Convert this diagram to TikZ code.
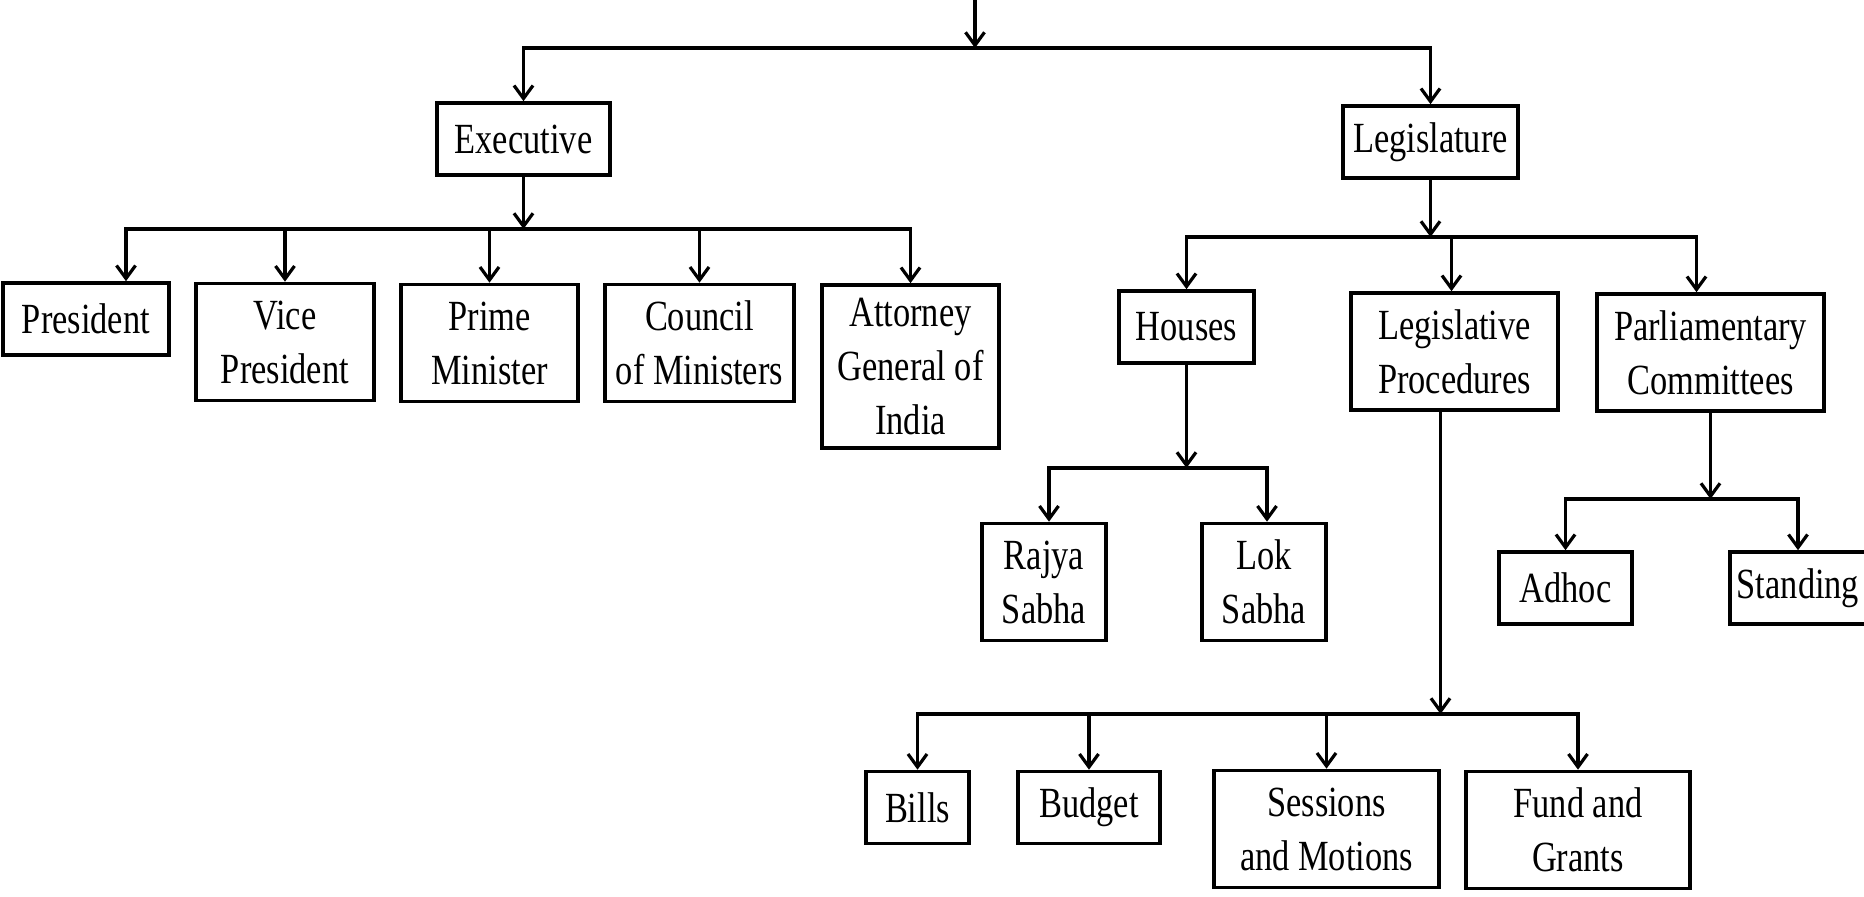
\documentclass[tikz,border=0pt]{standalone}
\usepackage{fontspec}
\setmainfont{Liberation Serif}[FakeStretch=0.8]
\usetikzlibrary{arrows.meta}
\tikzset{
  % Specifications for style of nodes:
  base/.style = {
    rectangle,
    draw=black,
    line width=1.8pt,
    inner sep=0pt,
    align=center,
    font=\fontsize{21.5pt}{27pt}\selectfont
  },
  oneline/.style = {
    base,
    minimum height=36pt
  },
  twoline/.style = {
    base,
    minimum height=58.5pt
  },
  threeline/.style = {
    base,
    minimum height=81.5pt
  },
  % Specifications for style of connectors:
  link/.style = {
    draw=black,
    line width=1.6pt,
    -{Straight Barb[length=6.5pt,width=9.5pt]}
  }
}

\begin{document}
\begin{tikzpicture}[x=0.5pt, y=-0.5pt]
    \useasboundingbox (0,0) rectangle (1864,897);
    % Specification of nodes (position, etc.)
    \node[oneline, minimum width=86.5pt]    (exec)     at (523.5,139)  {Executive};
    \node[oneline, minimum width=87.5pt]    (legis)    at (1430.5,142) {Legislature};
    \node[oneline, minimum width=83pt]      (pres)     at (86,319)     {President};
    \node[twoline, minimum width=89pt]      (vice)     at (285,342)    {Vice\\President};
    \node[twoline, minimum width=88.5pt]    (prime)    at (489.5,343)  {Prime\\Minister};
    \node[twoline, minimum width=94.5pt]    (council)  at (699.5,343)  {Council\\of Ministers};
    \node[threeline, minimum width=88.5pt]  (attorney) at (910.5,366.5) {Attorney\\General of\\India};
    \node[oneline, minimum width=67.5pt]    (houses)   at (1186.5,327) {Houses};
    \node[twoline, minimum width=103.5pt]   (legproc)  at (1454.5,351.5) {Legislative\\Procedures};
    \node[twoline, minimum width=113.5pt]   (parl)     at (1710.5,352.5) {Parliamentary\\Committees};
    \node[twoline, minimum width=62pt]      (rajya)    at (1044,582)   {Rajya\\Sabha};
    \node[twoline, minimum width=62pt]      (lok)      at (1264,582)   {Lok\\Sabha};
    \node[oneline, minimum width=66.5pt]    (adhoc)    at (1565.5,588) {Adhoc};
    \node[oneline, minimum width=68pt]      (standing) at (1798,588)   {Standing};
    \node[oneline, minimum width=51.5pt]    (bills)    at (917.5,807.5) {Bills};
    \node[oneline, minimum width=71pt]      (budget)   at (1089,807.5) {Budget};
    \node[twoline, minimum width=112.5pt]   (sessions) at (1326.5,829) {Sessions\\and Motions};
    \node[twoline, minimum width=112pt]     (fund)     at (1578,830)   {Fund and\\Grants};
    % Junctions of the connectors
    \coordinate (root)     at (975,0);
    \coordinate (topbus)   at (975,48);
    \coordinate (execbus)  at (523.5,229);
    \coordinate (legbus)   at (1430.5,237);
    \coordinate (housebus) at (1186.5,468);
    \coordinate (procbus)  at (1440.5,714);
    \coordinate (combus)   at (1710.5,499);
    % Connectors
    \draw[link] (root) -- (topbus);
    \foreach \n in {exec, legis}
      \draw[link] (topbus) -| (\n.north);
    \draw[link] (exec) -- (execbus);
    \foreach \n/\s in {pres/20pt, vice/0pt, prime/0pt, council/0pt, attorney/0pt}
      \draw[link] (execbus) -| ([xshift=\s]\n.north);
    \draw[link] (legis) -- (legbus);
    \foreach \n/\s in {houses/0pt, legproc/-1.5pt, parl/-7pt}
      \draw[link] (legbus) -| ([xshift=\s]\n.north);
    \draw[link] (houses) -- (housebus);
    \foreach \n/\s in {rajya/2.5pt, lok/1.5pt}
      \draw[link] (housebus) -| ([xshift=\s]\n.north);
    \draw[link] ([xshift=-7pt]legproc.south) -- (procbus);
    \foreach \n in {bills, budget, sessions, fund}
      \draw[link] (procbus) -| (\n.north);
    \draw[link] (parl) -- (combus);
    \foreach \n in {adhoc, standing}
      \draw[link] (combus) -| (\n.north);
\end{tikzpicture}
\end{document}
